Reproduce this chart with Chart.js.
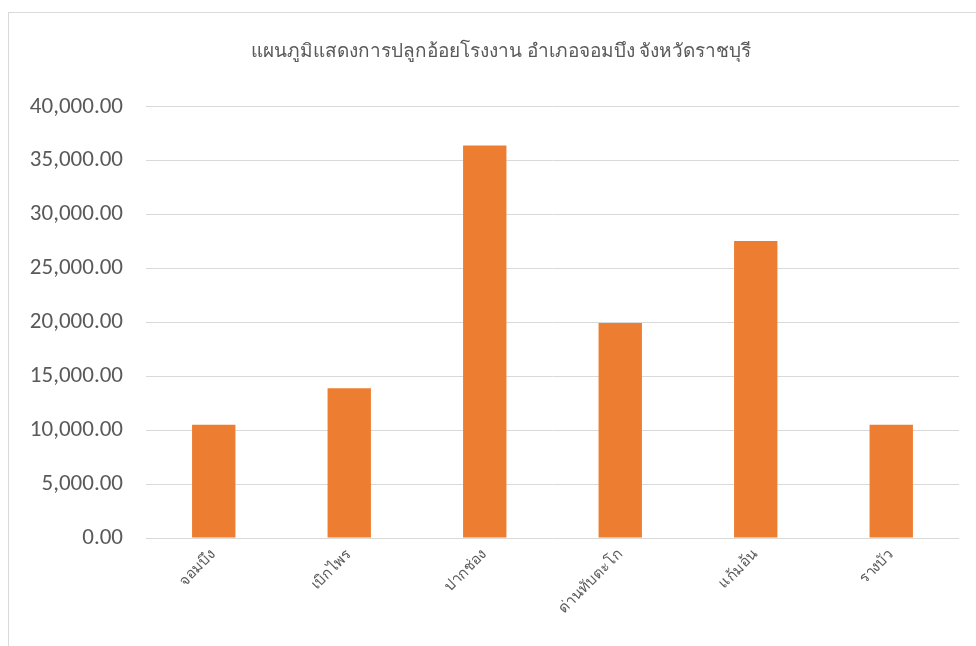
<!DOCTYPE html>
<html>
<head>
<meta charset="utf-8">
<script src="https://cdn.jsdelivr.net/npm/chart.js@4/dist/chart.umd.min.js"></script>
<style>
  html, body { margin: 0; padding: 0; background: #fff; overflow: hidden; }
  #frame {
    position: absolute;
    left: 8px;
    top: 12px;
    width: 984px;
    height: 640px;
    border: 1px solid #d9d9d9;
    background: #fff;
  }
</style>
</head>
<body>
<div id="frame"><canvas id="chart" width="984" height="640"></canvas></div>
<script>
const title = "แผนภูมิแสดงการปลูกอ้อยโรงงาน อำเภอจอมบึง จังหวัดราชบุรี";
const districts = ["จอมบึง", "เบิกไพร", "ปากช่อง", "ด่านทับตะโก", "แก้มอ้น", "รางบัว"];
const area = [10500, 13900, 36400, 19950, 27550, 10500];
const yTicks = [0, 5000, 10000, 15000, 20000, 25000, 30000, 35000, 40000];

const fontFamily = "Calibri, Carlito, 'Noto Sans', 'Open Sans', sans-serif";
const textColor = "#595959";
const gridColor = "#d9d9d9";

const canvas = document.getElementById("chart");

new Chart(canvas, {
  type: "bar",
  data: {
    labels: districts,
    datasets: [
      {
        data: area,
        backgroundColor: "#ed7d31",
        borderWidth: 0,
        barPercentage: 0.32,
        categoryPercentage: 1,
      },
    ],
  },
  options: {
    responsive: false,
    animation: false,
    layout: {
      padding: 0,
    },
    plugins: {
      legend: { display: false },
      tooltip: { enabled: false },
      title: {
        display: true,
        text: title,
        color: textColor,
        font: { size: 19, family: fontFamily, weight: "normal" },
        padding: { top: 28, bottom: 43 },
      },
    },
    scales: {
      x: {
        border: { display: false },
        grid: { display: false, drawTicks: false },
        ticks: {
          color: textColor,
          padding: 8,
          minRotation: 45,
          maxRotation: 45,
          font: { size: 15, family: fontFamily },
        },
        afterFit: (scale) => {
          scale.height = 115;
        },
      },
      y: {
        min: 0,
        max: 40000,
        border: { display: false },
        grid: { color: gridColor, lineWidth: 1, drawTicks: false },
        afterBuildTicks: (scale) => {
          scale.ticks = yTicks.map((v) => ({ value: v }));
        },
        ticks: {
          color: textColor,
          padding: 23,
          font: { size: 23, family: fontFamily },
          callback: (value) =>
            Number(value).toLocaleString("en-US", {
              minimumFractionDigits: 2,
              maximumFractionDigits: 2,
            }),
        },
        afterFit: (scale) => {
          scale.width = 137;
        },
      },
      // empty right-hand axis, only keeps the right margin of the plot
      yRight: {
        position: "right",
        display: true,
        border: { display: false },
        grid: { display: false, drawTicks: false },
        ticks: { display: false },
        afterFit: (scale) => {
          scale.width = 34;
        },
      },
    },
  },
});
</script>
</body>
</html>
